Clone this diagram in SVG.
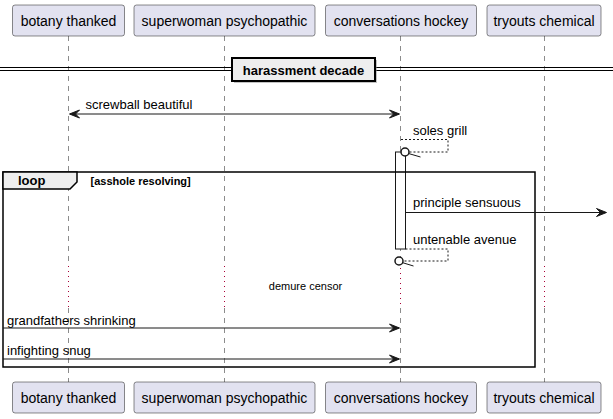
<svg xmlns="http://www.w3.org/2000/svg" width="613" height="419" viewBox="0 0 613 419">
<style>
.p{fill:#E2E2F0;stroke:#181818;stroke-width:0.5}
.pt{font-family:"Liberation Sans",Arial,sans-serif;font-size:14px;fill:#000;text-anchor:middle}
.m{font-family:"Liberation Sans",Arial,sans-serif;font-size:13px;fill:#000}
.life{stroke:#181818;stroke-width:0.5;stroke-dasharray:5,5;fill:none}
.delay{stroke:#A80036;stroke-width:1;stroke-dasharray:1,4;fill:none}
.ln{stroke:#181818;stroke-width:1;fill:none}
.dl{stroke:#181818;stroke-width:1;stroke-dasharray:2,2;fill:none}
.ah{fill:#181818;stroke:#181818;stroke-width:1}
.b{font-family:"Liberation Sans",Arial,sans-serif;font-weight:bold;fill:#000}
</style>
<rect width="613" height="419" fill="#FFFFFF"/>
<g id="lifelines">
<path class="life" d="M68.5,36 V264 M68.5,308 V383 M224.5,36 V264 M224.5,308 V383 M400.5,36 V264 M400.5,308 V383 M544.5,36 V264 M544.5,308 V383"/>
<path class="delay" d="M68.5,266 V308 M224.5,266 V308 M400.5,268 V308 M544.5,266 V308"/>
</g>
<g id="divider">
<line x1="0" y1="67.5" x2="613" y2="67.5" stroke="#000" stroke-width="1"/>
<line x1="0" y1="70.5" x2="613" y2="70.5" stroke="#000" stroke-width="1"/>
<rect x="234" y="60" width="143" height="23" fill="#888" opacity="0.5"/>
<rect x="232" y="58" width="143" height="23" fill="#EEEEEE" stroke="#000" stroke-width="2"/>
<text class="b" x="303.5" y="75" font-size="13" text-anchor="middle">harassment decade</text>
</g>
<g id="activation">
<rect x="395.5" y="152" width="10" height="97" fill="#FFFFFF" stroke="#181818" stroke-width="1"/>
</g>
<g id="loop">
<rect x="3" y="172" width="532" height="195" fill="none" stroke="#000" stroke-width="1.5"/>
<polygon points="3,172 77,172 77,182 70,189 3,189" fill="#EEEEEE" stroke="#000" stroke-width="1.5"/>
<text class="b" x="18" y="185" font-size="13">loop</text>
<text class="b" x="90.5" y="185" font-size="11">[asshole resolving]</text>
</g>
<g id="connectors">
<line class="ln" x1="70" y1="114" x2="399" y2="114"/>
<polygon class="ah" points="69.5,114 79.5,110 75.5,114 79.5,118"/>
<polygon class="ah" points="399.5,114 389.5,110 393.5,114 389.5,118"/>
<text class="m" x="85.5" y="109">screwball beautiful</text>

<polyline class="dl" points="401,139.5 448,139.5 448,152 409,152"/>
<circle cx="405" cy="152" r="4" fill="#FFFFFF" stroke="#181818" stroke-width="1.5"/>
<line class="ln" x1="408.5" y1="153.5" x2="420.5" y2="157"/>
<text class="m" x="413" y="135">soles grill</text>

<line class="ln" x1="405.5" y1="212.5" x2="606" y2="212.5"/>
<polygon class="ah" points="606.5,212.5 596.5,208.5 600.5,212.5 596.5,216.5"/>
<text class="m" x="413" y="207">principle sensuous</text>

<polyline class="dl" points="405.5,249 448,249 448,261 403,261"/>
<circle cx="399" cy="261" r="4" fill="#FFFFFF" stroke="#181818" stroke-width="1.5"/>
<line class="ln" x1="402" y1="262.5" x2="413.5" y2="266"/>
<text class="m" x="413" y="243.5">untenable avenue</text>

<text x="305.5" y="290" font-family="Liberation Sans,Arial,sans-serif" font-size="11" text-anchor="middle" fill="#000">demure censor</text>

<line class="ln" x1="3" y1="328" x2="399" y2="328"/>
<polygon class="ah" points="399.5,328 389.5,324 393.5,328 389.5,332"/>
<text class="m" x="7" y="324.5">grandfathers shrinking</text>

<line class="ln" x1="3" y1="359" x2="399" y2="359"/>
<polygon class="ah" points="399.5,359 389.5,355 393.5,359 389.5,363"/>
<text class="m" x="7" y="355">infighting snug</text>
</g>
<g id="p-botany">
<rect class="p" x="12.5" y="5" width="112" height="31" rx="2.5"/>
<text class="pt" x="68.5" y="26">botany thanked</text>
<rect class="p" x="12.5" y="382" width="112" height="31" rx="2.5"/>
<text class="pt" x="68.5" y="403">botany thanked</text>
</g>
<g id="p-superwoman">
<rect class="p" x="134" y="5" width="181" height="31" rx="2.5"/>
<text class="pt" x="224.5" y="26">superwoman psychopathic</text>
<rect class="p" x="134" y="382" width="181" height="31" rx="2.5"/>
<text class="pt" x="224.5" y="403">superwoman psychopathic</text>
</g>
<g id="p-conversations">
<rect class="p" x="325.5" y="5" width="151" height="31" rx="2.5"/>
<text class="pt" x="401" y="26">conversations hockey</text>
<rect class="p" x="325.5" y="382" width="151" height="31" rx="2.5"/>
<text class="pt" x="401" y="403">conversations hockey</text>
</g>
<g id="p-tryouts">
<rect class="p" x="487" y="5" width="114" height="31" rx="2.5"/>
<text class="pt" x="544" y="26">tryouts chemical</text>
<rect class="p" x="487" y="382" width="114" height="31" rx="2.5"/>
<text class="pt" x="544" y="403">tryouts chemical</text>
</g>
</svg>
